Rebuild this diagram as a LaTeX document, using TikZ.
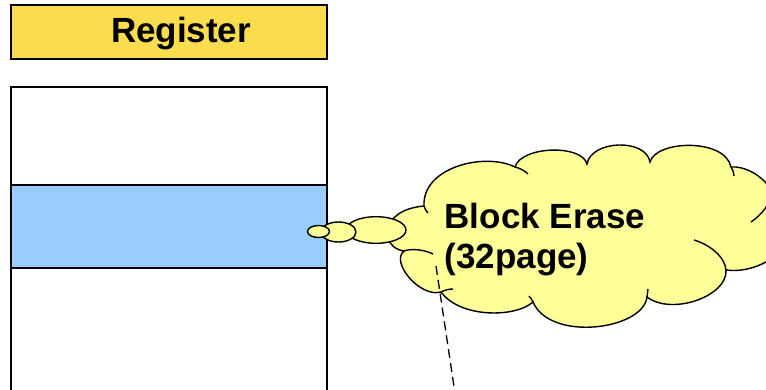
\documentclass[tikz,border=0pt]{standalone}
\usepackage{fontspec}
\setmainfont{Liberation Sans}
\usetikzlibrary{shapes.geometric}
\definecolor{regyellow}{RGB}{250,221,78}
\definecolor{cloudyellow}{RGB}{255,255,153}
\definecolor{bandblue}{RGB}{153,204,255}
\begin{document}
\begin{tikzpicture}[x=1pt,y=-1pt,
  outline/.style={draw=black,line width=2pt},
  cloudline/.style={draw=black,line width=1.4pt},
  label/.style={font=\bfseries\fontsize{35}{41}\selectfont,inner sep=0pt,anchor=base west},
  bubble/.style={ellipse,draw=black,line width=1.4pt,fill=cloudyellow,inner sep=0pt},
  leader/.style={draw=black,line width=1.3pt,dash pattern=on 9pt off 5pt}]

\useasboundingbox (0,0) rectangle (766,389);
\clip (0,0) rectangle (766,389);

% header
\node[outline,fill=regyellow,minimum width=316pt,minimum height=54pt,inner sep=0pt] (regbox) at (169,32) {};
\node[label] (regtext) at (110.8,42) {Register};

% memory block with the selected band
\draw[outline,fill=white] (11,87) rectangle (327,400);
\draw[outline,fill=bandblue] (11,185) rectangle (327,268);

% cloud outline, puff by puff
\path[cloudline,fill=cloudyellow] (424,206)
  .. controls (422,167) and (485,152) .. (515,167)
  .. controls (521,146) and (582,144) .. (587,164)
  .. controls (591,140) and (646,138) .. (650,162)
  .. controls (656,140) and (725,138) .. (731,167)
  .. controls (755,165) and (785,195) .. (767,206)
  .. controls (800,210) and (805,250) .. (780,250)
  .. controls (772,262) and (748,273) .. (726,270)
  .. controls (728,296) and (672,316) .. (647,297)
  .. controls (643,330) and (550,342) .. (533,302)
  .. controls (515,318) and (460,318) .. (441,292)
  .. controls (420,298) and (390,262) .. (404,251)
  .. controls (380,248) and (378,210) .. (424,206) -- cycle;

% inner hooks of the puffs
\draw[cloudline] (424,206) .. controls (425,209) and (426,211) .. (428,213);
\draw[cloudline] (515,167) .. controls (519,168) and (524,170) .. (528,174);
\draw[cloudline] (731,167) .. controls (733,170) and (734,173) .. (734,176);
\draw[cloudline] (767,206) .. controls (762,213) and (757,218) .. (751,222);
\draw[cloudline] (726,270) .. controls (725,256) and (708,244) .. (694,240);
\draw[cloudline] (647,297) .. controls (647,294) and (648,292) .. (648,289);
\draw[cloudline] (533,302) .. controls (532,300) and (531,298) .. (529,296);
\draw[cloudline] (441,292) .. controls (445,290) and (449,289) .. (453,289);
\draw[cloudline] (404,251) .. controls (412,248) and (425,250) .. (433,254);

% trailing bubbles
\node[bubble,minimum width=60pt,minimum height=26.6pt] (b3) at (376,230) {};
\node[bubble,minimum width=35pt,minimum height=20pt] (b2) at (338.5,232) {};
\node[bubble,minimum width=22pt,minimum height=12pt] (b1) at (318.5,231.5) {};

% cloud text
\node[label] (blk1) at (444.5,228) {Block Erase};
\node[label] (blk2) at (444.5,268) {(32page)};

% dashed leader
\coordinate (dtop) at (436,266);
\coordinate (dbot) at (456,400);
\draw[leader] (dtop) -- (dbot);
\end{tikzpicture}
\end{document}
